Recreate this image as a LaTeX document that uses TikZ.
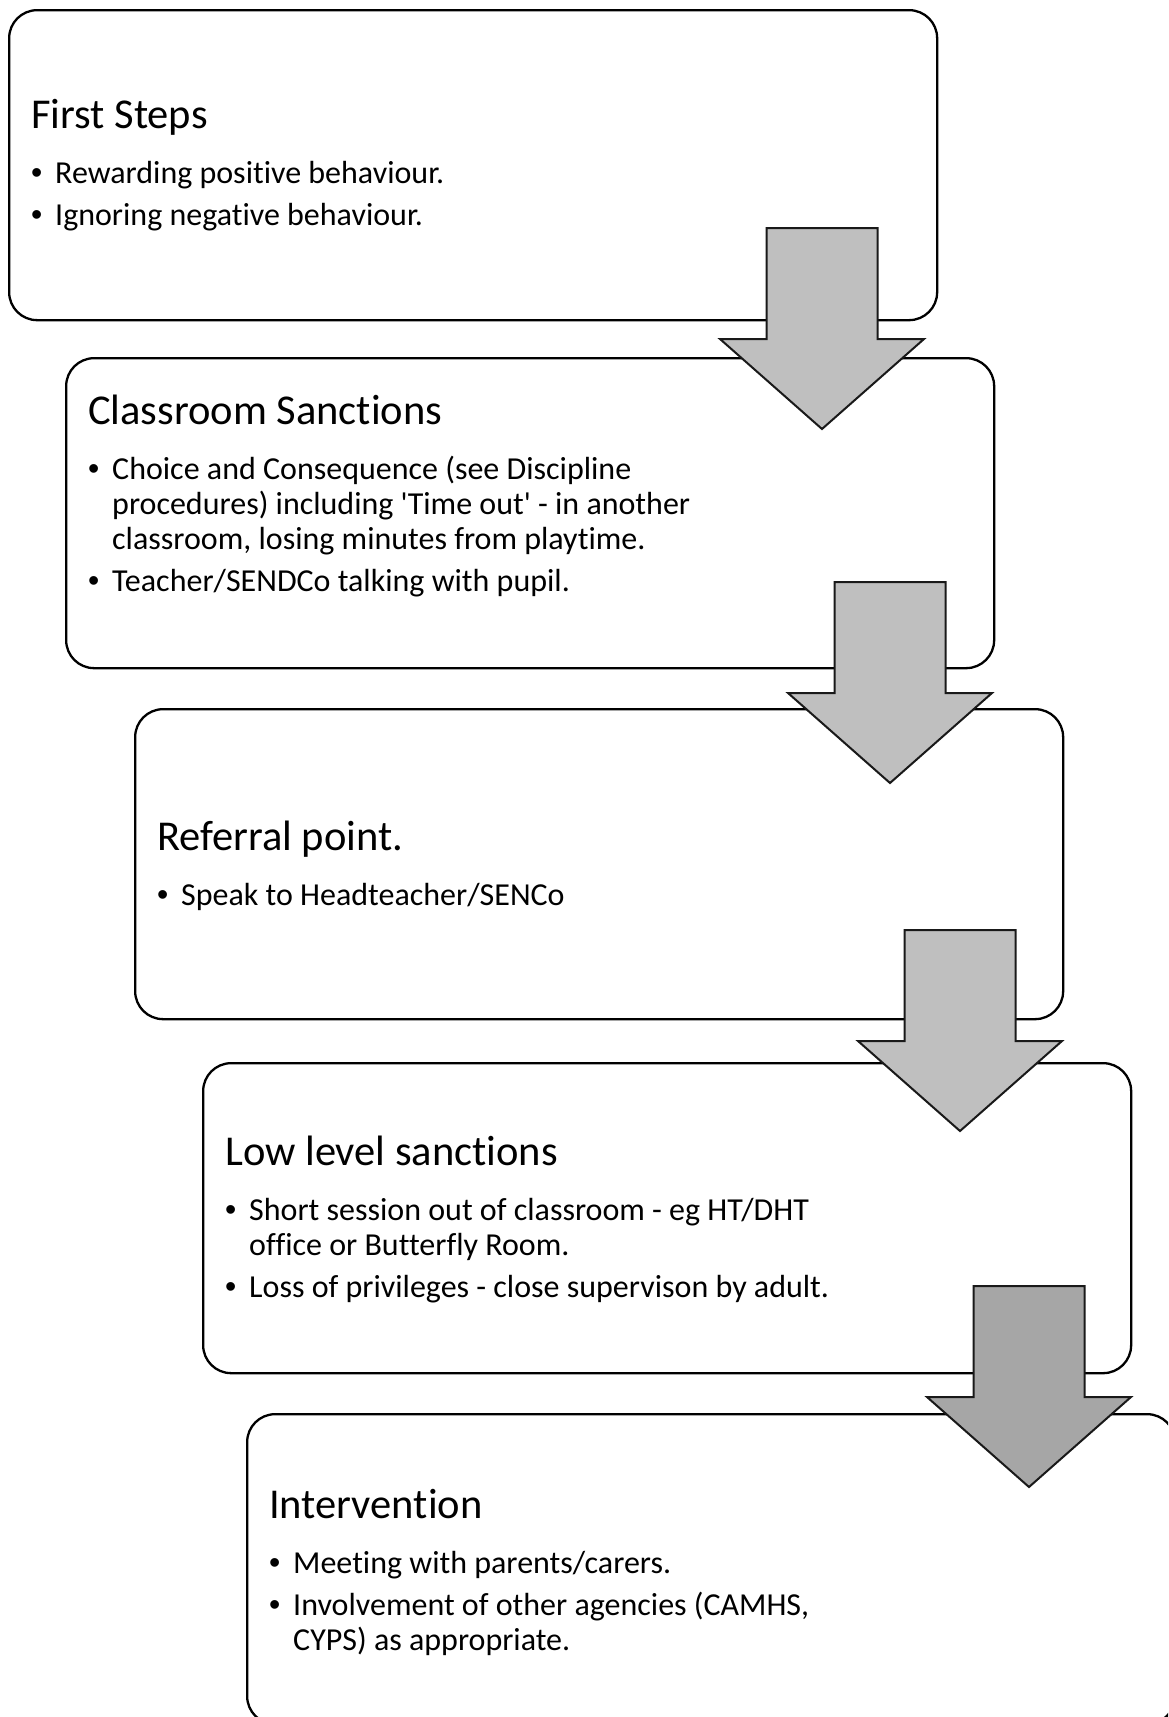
\documentclass[tikz,border=0pt]{standalone}
\usepackage{fontspec}
\setmainfont{Carlito}[Ligatures=CommonOff]
\newfontfamily\bulletfont{Liberation Sans}
\usetikzlibrary{positioning}
\definecolor{arrowlight}{HTML}{BFBFBF}
\definecolor{arrowdark}{HTML}{A6A6A6}
\newcommand*{\steptitle}[1]{{\fontsize{42.5}{50}\selectfont\spaceskip=0.226em plus 0.05em #1\par}\vspace{20pt}}
\newcommand*{\stepitem}[1]{{\fontsize{32}{35}\selectfont\spaceskip=0.226em plus 0.05em\hangindent=24pt\hangafter=1\noindent\makebox[24pt][l]{\bulletfont\textbullet}#1\par}\vspace{7pt}}

\begin{document}
\begin{tikzpicture}[x=1pt, y=-1pt,
    stepbox/.style={draw, line width=2.3pt, rounded corners=28pt, fill=white,
      minimum width=928pt, minimum height=310pt, inner sep=0pt, anchor=north west},
    steptext/.style={anchor=west, inner sep=0pt, text width=800pt, align=left,
      execute at begin node=\setlength{\parskip}{0pt}},
    blockarrow/.style={draw=black!90, line width=2pt, line join=miter}]
  \useasboundingbox (0,0) rectangle (1168,1717);
  \clip (0,0) rectangle (1168,1717);

  \node[stepbox] (box1) at (8,9) {};
  \node[stepbox] (box2) at (65,357) {};
  \node[stepbox] (box3) at (134,708) {};
  \node[stepbox] (box4) at (202,1062) {};
  \node[stepbox] (box5) at (246,1413) {};

  \node[steptext] (txt1) at ([xshift=23pt]box1.west) {\steptitle{First Steps}
    \stepitem{Rewarding positive behaviour.}
    \stepitem{Ignoring negative behaviour.}};
  \node[steptext] (txt2) at ([xshift=23pt, yshift=17pt]box2.west) {\steptitle{Classroom Sanctions}
    \stepitem{Choice and Consequence (see Discipline\newline procedures) including \textquotesingle Time out\textquotesingle{} - in another\newline classroom, losing minutes from playtime.}
    \stepitem{Teacher/SENDCo talking with pupil.}};
  \node[steptext] (txt3) at ([xshift=23pt, yshift=-2pt]box3.west) {\steptitle{Referral point.}
    \stepitem{Speak to Headteacher/SENCo}};
  \node[steptext] (txt4) at ([xshift=23pt, yshift=-1.5pt]box4.west) {\steptitle{Low level sanctions}
    \stepitem{Short session out of classroom - eg HT/DHT\newline office or Butterfly Room.}
    \stepitem{Loss of privileges - close supervison by adult.}};
  \node[steptext] (txt5) at ([xshift=23pt, yshift=-3pt]box5.west) {\steptitle{Intervention}
    \stepitem{Meeting with parents/carers.}
    \stepitem{Involvement of other agencies (CAMHS,\newline CYPS) as appropriate.}};

  \foreach \x/\y/\c in {822/228/arrowlight, 890/582/arrowlight, 960/930/arrowlight, 1029/1286/arrowdark}{
    \draw[blockarrow, fill=\c] (\x,\y) ++(-55.5,0) -- ++(111,0) -- ++(0,111) -- ++(46.5,0)
      -- ++(-102,90) -- ++(-102,-90) -- ++(46.5,0) -- cycle;
  }
\end{tikzpicture}
\end{document}
